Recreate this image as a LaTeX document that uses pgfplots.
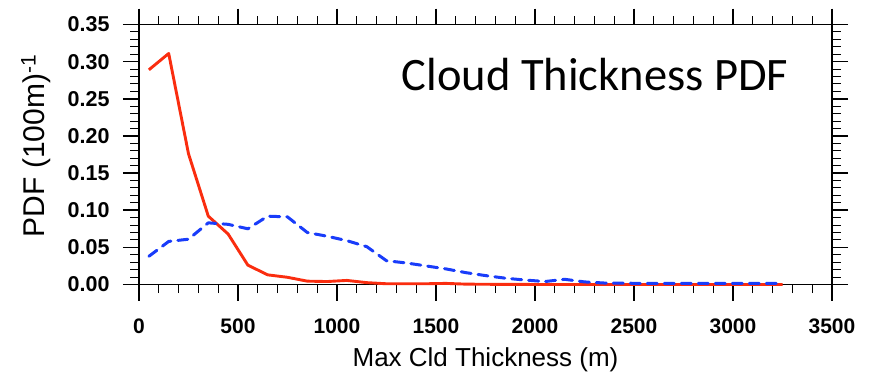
\documentclass[border=0pt]{standalone}
\usepackage{fontspec}
\setmainfont{Liberation Sans}
\newfontfamily\calib{Carlito}
\usepackage{pgfplots}
\pgfplotsset{compat=1.18}
\definecolor{myred}{RGB}{250,45,15}
\definecolor{myblue}{RGB}{25,60,250}
\begin{document}
\begin{tikzpicture}
\begin{axis}[
  at={(0,0)}, anchor=south west,
  scale only axis, width=693pt, height=260pt,
  xmin=0, xmax=3500, ymin=0, ymax=0.35,
  xtick={0,500,...,3500}, ytick={0,0.05,...,0.35},
  minor x tick num=4, minor y tick num=4,
  tick align=outside,
  major tick length=16pt, minor tick length=8.5pt,
  axis line style={line width=1.8pt},
  every tick/.style={black, line width=1.5pt},
  every minor tick/.style={black, line width=1.1pt},
  /pgf/number format/assume math mode=true,
  xticklabel style={font=\fontsize{21}{24}\selectfont\bfseries, /pgf/number format/1000 sep={}, yshift=-15pt},
  yticklabel style={font=\fontsize{21.5}{24}\selectfont\bfseries, /pgf/number format/fixed, /pgf/number format/fixed zerofill, /pgf/number format/precision=2, xshift=-10pt},
  xlabel={Max Cld Thickness (m)},
  ylabel={PDF (100m)\textsuperscript{-1}},
  every axis x label/.style={at={(axis description cs:0.5,-0.3135)}, anchor=base, font=\fontsize{26}{30}\selectfont},
  every axis y label/.style={at={(axis description cs:-0.1486,0.5327)}, anchor=center, rotate=90, font=\fontsize{30}{34}\selectfont},
  clip=false,
]
\addplot[myred, line width=2.9pt, line join=round] coordinates {
(50,0.289)(150,0.311)(250,0.176)(350,0.092)(450,0.068)(550,0.026)(650,0.013)(750,0.0097)(850,0.0045)(950,0.004)(1050,0.0055)(1150,0.0025)(1250,0.001)(1350,0.001)(1450,0.001)(1550,0.0015)(1650,0.0005)(1750,0.0003)(1850,0.0002)(1950,0.0001)(2050,0)(2150,0)(2250,0)(2350,0)(2450,0)(2550,0)(2650,0)(2750,0)(2850,0)(2950,0)(3050,0)(3150,0)(3250,0)
};
\addplot[myblue, line width=3pt, line cap=round, line join=round, dash pattern=on 10pt off 7pt] coordinates {
(50,0.038)(150,0.058)(250,0.061)(350,0.083)(450,0.081)(550,0.075)(650,0.092)(750,0.091)(850,0.070)(950,0.065)(1050,0.059)(1150,0.051)(1250,0.032)(1350,0.029)(1450,0.025)(1550,0.021)(1650,0.016)(1750,0.012)(1850,0.0085)(1950,0.006)(2050,0.004)(2150,0.007)(2250,0.0035)(2350,0.002)(2450,0.0018)(2550,0.0015)(2650,0.0015)(2750,0.0015)(2850,0.0015)(2950,0.0015)(3050,0.0015)(3150,0.0015)(3250,0.0015)
};
\node[font=\calib\fontsize{46.5}{52}\selectfont, anchor=base] at (axis cs:2303,0.2609) {Cloud Thickness PDF};
\end{axis}
\pgfresetboundingbox
\path[use as bounding box] (-139pt,-91.5pt) rectangle (734pt,284.5pt);
\end{tikzpicture}
\end{document}
